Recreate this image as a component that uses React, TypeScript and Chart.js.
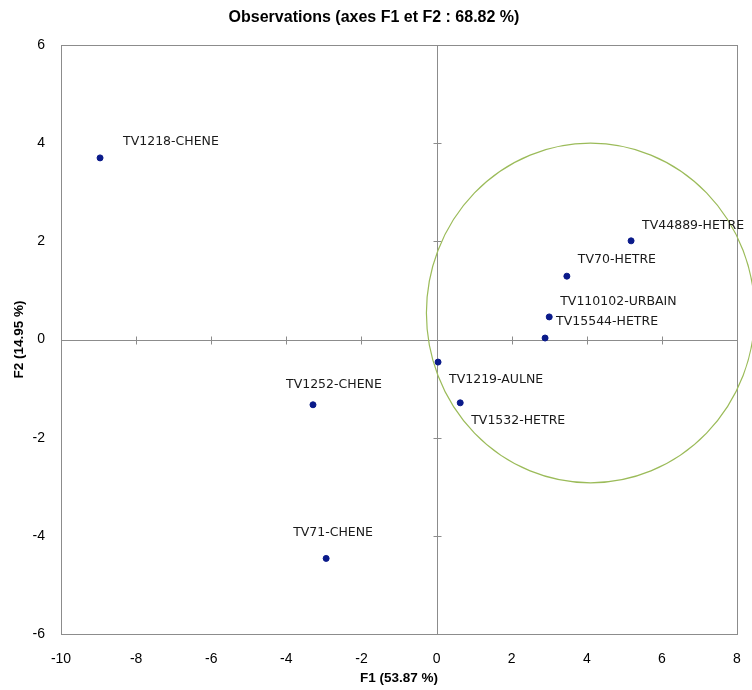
import React, { useEffect, useRef } from "react";
import { Chart, registerables } from "chart.js";

Chart.register(...registerables);

const titleText = "Observations (axes F1 et F2 : 68.82 %)";
const xAxisTitle = "F1 (53.87 %)";
const yAxisTitle = "F2 (14.95 %)";

const names = [
  "TV1218-CHENE",
  "TV44889-HETRE",
  "TV70-HETRE",
  "TV110102-URBAIN",
  "TV15544-HETRE",
  "TV1219-AULNE",
  "TV1532-HETRE",
  "TV1252-CHENE",
  "TV71-CHENE",
];
const f1Values = [-8.96, 5.18, 3.47, 3.0, 2.89, 0.04, 0.63, -3.29, -2.94];
const f2Values = [3.7, 2.01, 1.29, 0.46, 0.03, -0.46, -1.29, -1.33, -4.46];

const xMin = -10;
const xMax = 8;
const yMin = -6;
const yMax = 6;
const tickStep = 2;

// highlighted group ellipse (centre and radii in axis units)
const ellipseCenter = [4.1, 0.54];
const ellipseRadii = [4.37, 3.46];

// label placement (pixel offset of text start from point)
const labelOffsets: [number, number][] = [
  [23, -16],
  [11, -15],
  [11, -16],
  [11, -15],
  [11, -16],
  [11, 18],
  [11, 18],
  [-27, -20],
  [-33, -26],
];

const AXIS_GREY = "#8c8c8c";
const FONT = "'Liberation Sans', Arial, sans-serif";

const overlay = {
  id: "overlay",
  beforeDraw(chart: any) {
    const ctx = chart.ctx;
    ctx.save();
    ctx.fillStyle = "#ffffff";
    ctx.fillRect(0, 0, chart.width, chart.height);
    ctx.restore();
  },
  beforeDatasetsDraw(chart: any) {
    const { ctx, chartArea: a, scales } = chart;
    const xs = scales.x;
    const ys = scales.y;
    ctx.save();
    ctx.strokeStyle = AXIS_GREY;
    ctx.lineWidth = 1;
    ctx.strokeRect(Math.round(a.left) + 0.5, Math.round(a.top) + 0.5, Math.round(a.right - a.left), Math.round(a.bottom - a.top));
    const x0 = Math.round(xs.getPixelForValue(0)) + 0.5;
    const y0 = Math.round(ys.getPixelForValue(0)) + 0.5;
    ctx.beginPath();
    ctx.moveTo(x0, a.top);
    ctx.lineTo(x0, a.bottom);
    ctx.moveTo(a.left, y0);
    ctx.lineTo(a.right, y0);
    for (const t of ys.ticks) {
      const py = Math.round(ys.getPixelForValue(t.value)) + 0.5;
      ctx.moveTo(x0 - 4, py);
      ctx.lineTo(x0 + 4, py);
    }
    for (const t of xs.ticks) {
      const px = Math.round(xs.getPixelForValue(t.value)) + 0.5;
      ctx.moveTo(px, y0 - 4);
      ctx.lineTo(px, y0 + 4);
    }
    ctx.stroke();
    ctx.restore();
  },
  afterDatasetsDraw(chart: any) {
    const { ctx, scales } = chart;
    const xs = scales.x;
    const ys = scales.y;
    ctx.save();
    // ellipse
    const cx = xs.getPixelForValue(ellipseCenter[0]);
    const cy = ys.getPixelForValue(ellipseCenter[1]);
    const rx = Math.abs(xs.getPixelForValue(ellipseCenter[0] + ellipseRadii[0]) - cx);
    const ry = Math.abs(ys.getPixelForValue(ellipseCenter[1] + ellipseRadii[1]) - cy);
    ctx.beginPath();
    ctx.ellipse(cx, cy, rx, ry, 0, 0, Math.PI * 2);
    ctx.strokeStyle = "#9bbb59";
    ctx.lineWidth = 1.2;
    ctx.stroke();
    // labels
    ctx.fillStyle = "#1a1a1a";
    ctx.font = "12.5px 'DejaVu Sans', sans-serif";
    ctx.textAlign = "left";
    ctx.textBaseline = "middle";
    names.forEach((n, i) => {
      const px = xs.getPixelForValue(f1Values[i]);
      const py = ys.getPixelForValue(f2Values[i]);
      const [dx, dy] = labelOffsets[i];
      ctx.fillText(n, px + dx, py + dy);
    });
    // title
    ctx.font = `bold 16px ${FONT}`;
    ctx.textAlign = "center";
    ctx.fillStyle = "#000000";
    ctx.fillText(titleText, 374, 18);
    ctx.restore();
  },
};

export default function App() {
  const ref = useRef<HTMLCanvasElement | null>(null);
  useEffect(() => {
    document.body.style.margin = "0";
    if (!ref.current) return;
    const points = f1Values.map((x, i) => ({ x, y: f2Values[i] }));
    const chart = new Chart(ref.current, {
      type: "scatter",
      data: {
        datasets: [
          {
            label: "Observations",
            data: points,
            backgroundColor: "#0a1a8a",
            borderColor: "#0a1a8a",
            pointRadius: 3,
            pointHoverRadius: 3,
          },
        ],
      },
      plugins: [overlay],
      options: {
        responsive: false,
        animation: false,
        layout: { padding: { top: 45, right: 15, left: 0, bottom: 0 } },
        plugins: {
          legend: { display: false },
          title: { display: false },
          tooltip: { enabled: false },
        },
        scales: {
          x: {
            type: "linear",
            min: xMin,
            max: xMax,
            grid: { display: false },
            border: { display: false },
            ticks: {
              stepSize: tickStep,
              padding: 9,
              color: "#000",
              font: { family: FONT, size: 14 },
            },
            title: {
              display: true,
              text: xAxisTitle,
              color: "#000",
              font: { family: FONT, size: 13.5, weight: "bold" },
              padding: { top: 0, bottom: 4 },
            },
            afterFit(s: any) {
              s.height = 56;
              s.paddingLeft = 0;
              s.paddingRight = 0;
            },
          },
          y: {
            type: "linear",
            min: yMin,
            max: yMax,
            grid: { display: false },
            border: { display: false },
            ticks: {
              stepSize: tickStep,
              padding: 8,
              color: "#000",
              font: { family: FONT, size: 14 },
            },
            title: {
              display: true,
              text: yAxisTitle,
              color: "#000",
              font: { family: FONT, size: 13.5, weight: "bold" },
              padding: { top: 11, bottom: 0 },
            },
            afterFit(s: any) {
              s.width = 61;
              s.paddingTop = 0;
              s.paddingBottom = 0;
            },
          },
        },
      },
    });
    return () => chart.destroy();
  }, []);
  return <canvas ref={ref} width={752} height={690} style={{ display: "block" }} />;
}
